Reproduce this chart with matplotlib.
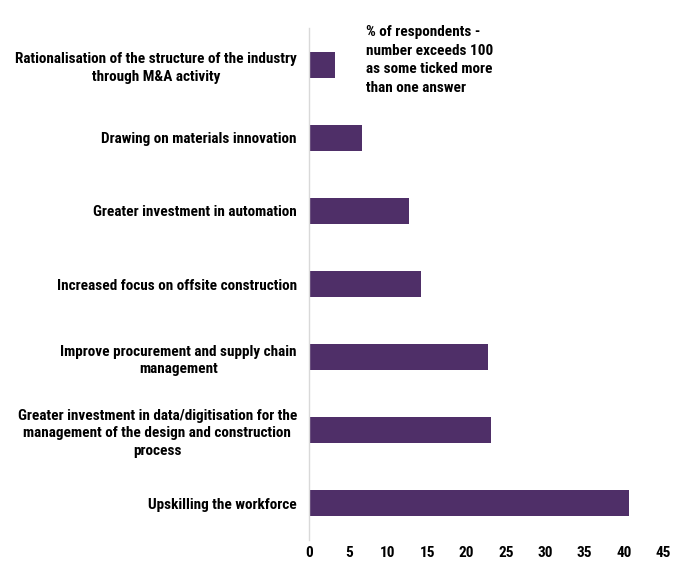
import matplotlib
matplotlib.use("Agg")
import matplotlib.pyplot as plt

# Survey responses: share of respondents choosing each priority
categories = [
    "Rationalisation of the structure of the industry\nthrough M&A activity",
    "Drawing on materials innovation",
    "Greater investment in automation",
    "Increased focus on offsite construction",
    "Improve procurement and supply chain\nmanagement",
    "Greater investment in data/digitisation for the\nmanagement of the design and construction\nprocess",
    "Upskilling the workforce",
]
values = [3.2, 6.7, 12.7, 14.2, 22.7, 23.1, 40.7]
x_ticks = [0, 5, 10, 15, 20, 25, 30, 35, 40, 45]
note = "% of respondents -\nnumber exceeds 100\nas some ticked more\nthan one answer"

plt.rcParams["font.family"] = ["Roboto Condensed", "DejaVu Sans"]
plt.rcParams["font.weight"] = "bold"

bar_color = "#4F2F68"

fig = plt.figure(figsize=(6.86, 5.64), dpi=100)
ax = fig.add_axes([0.451, 0.0434, 0.5155, 0.9061])

pos = list(range(len(categories)))
ax.barh(pos, values, height=0.35, color=bar_color)
ax.set_ylim(len(categories) - 0.5, -0.5)
ax.set_xlim(0, 45)

ax.set_xticks(x_ticks)
ax.set_xticklabels([str(t) for t in x_ticks], fontsize=11, fontweight="bold")
ax.set_yticks(pos)
ax.set_yticklabels(categories, fontsize=11, fontweight="bold",
                   multialignment="center", linespacing=1.36)
ax.tick_params(axis="x", length=0, pad=5)
ax.tick_params(axis="y", length=0, pad=9)

for side in ("top", "right", "bottom"):
    ax.spines[side].set_visible(False)
ax.spines["left"].set_color("#d9d9d9")
ax.spines["left"].set_linewidth(1.0)

fig.text(366 / 686, 1 - 25 / 564, note, ha="left", va="top",
         fontsize=11, fontweight="bold", linespacing=1.42)

fig.savefig("out.png", dpi=100)
